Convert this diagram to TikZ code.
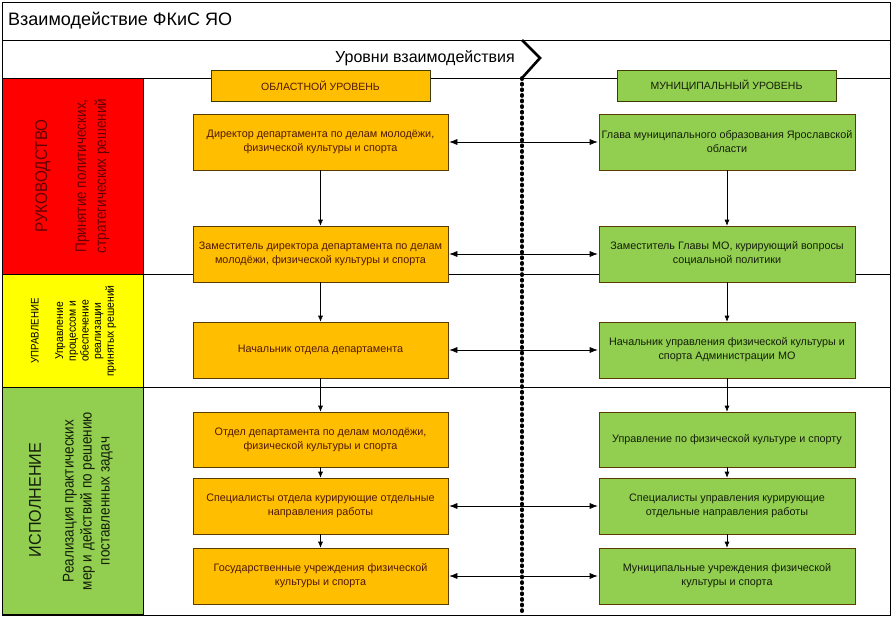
\documentclass[tikz,border=0pt]{standalone}
\usepackage{fontspec}
\setmainfont{Liberation Sans}
\usetikzlibrary{arrows.meta}
\definecolor{bandred}{RGB}{255,0,0}
\definecolor{bandyellow}{RGB}{255,255,0}
\definecolor{bandgreen}{RGB}{146,206,80}
\definecolor{boxorange}{RGB}{255,190,0}
\definecolor{boxgreen}{RGB}{146,206,80}
\definecolor{otext}{RGB}{80,25,5}
\definecolor{gtext}{RGB}{20,30,10}
\definecolor{rtext}{RGB}{100,0,0}
\tikzset{
  obox/.style={draw={rgb,255:red,90;green,60;blue,0}, line width=0.6pt, fill=boxorange, text=otext, minimum width=255pt, minimum height=56pt, align=center, font=\fontsize{10.8}{14}\selectfont, inner sep=0pt},
  gbox/.style={obox, fill=boxgreen, text=gtext, minimum width=256pt},
  hdr/.style={draw={rgb,255:red,60;green,60;blue,0}, line width=0.6pt, minimum width=219pt, minimum height=31pt, font=\fontsize{10.5}{12}\selectfont, inner sep=0pt},
  band/.style={draw=black, line width=0.7pt},
  vtxt/.style={rotate=90, align=center, inner sep=0pt},
  varr/.style={-{Latex[length=6pt,width=5pt]}, line width=0.6pt},
  harr/.style={{Latex[length=8pt,width=6pt]}-{Latex[length=8pt,width=6pt]}, line width=0.6pt, shorten <=1pt, shorten >=1pt},
  rule/.style={line width=0.7pt}
}
\begin{document}
\begin{tikzpicture}[x=1pt,y=-1pt]
\useasboundingbox (0,0) rectangle (893,619);
\fill[white] (0,0) rectangle (893,619);
% frame and rows
\draw[rule] (2,2) rectangle (890,615);
\draw[rule] (2,40) -- (890,40);
\draw[rule] (2,78) -- (890,78);
\draw[rule] (143,274) -- (890,274);
\draw[rule] (143,387) -- (890,387);
% bands
\filldraw[band, fill=bandred] (2,78) rectangle (143,274);
\filldraw[band, fill=bandyellow] (2,274) rectangle (143,387);
\filldraw[band, fill=bandgreen] (2,387) rectangle (143,614);
% title and levels
\node[anchor=west, font=\fontsize{18}{20}\selectfont, inner sep=0pt] (title) at (8,21) {Взаимодействие ФКиС ЯО};
\node[font=\fontsize{16}{18}\selectfont, inner sep=0pt] (levels) at (425,58) {Уровни взаимодействия};
\coordinate (chA) at (522,40);
\coordinate (chB) at (540,58);
\coordinate (chC) at (522,78);
\coordinate (dotEnd) at (522,615);
\draw[line width=2.6pt] (chA) -- (chB) -- (chC);
\draw[line width=3.6pt, line cap=round, dash pattern=on 1.2pt off 4.4pt] (chC) -- (dotEnd);
% band texts
\node[vtxt, text=rtext, font=\fontsize{17}{19}\selectfont] (t1a) at (43,176) {\scalebox{0.9}[1]{РУКОВОДСТВО}};
\node[vtxt, text=rtext, font=\fontsize{15.5}{20}\selectfont] (t1b) at (92,176) {\scalebox{0.87}[1]{\begin{tabular}{@{}c@{}}Принятие политических,\\стратегических решений\end{tabular}}};
\node[vtxt, text=black, font=\fontsize{11}{13}\selectfont] (t2a) at (35,331) {\scalebox{0.88}[1]{УПРАВЛЕНИЕ}};
\node[vtxt, text=black, font=\fontsize{11.5}{12.7}\selectfont] (t2b) at (86,331) {\scalebox{0.9}[1]{\begin{tabular}{@{}c@{}}Управление\\процессом и\\обеспечение\\реализации\\принятых решений\end{tabular}}};
\node[vtxt, text=gtext, font=\fontsize{17}{19}\selectfont] (t3a) at (35,500) {\scalebox{0.95}[1]{ИСПОЛНЕНИЕ}};
\node[vtxt, text=gtext, font=\fontsize{15.5}{18}\selectfont] (t3b) at (88,501) {\scalebox{0.87}[1]{\begin{tabular}{@{}c@{}}Реализация практических\\мер и действий по решению\\поставленных задач\end{tabular}}};
% headers
\node[hdr, fill=boxorange, text=otext] (hl) at (320.5,85.5) {ОБЛАСТНОЙ УРОВЕНЬ};
\node[hdr, fill=boxgreen, text=gtext] (hr) at (726.5,85.5) {МУНИЦИПАЛЬНЫЙ УРОВЕНЬ};
% left boxes
\node[obox] (l1) at (320.5,142) {Директор департамента по делам молодёжи,\\физической культуры и спорта};
\node[obox] (l2) at (320.5,254) {Заместитель директора департамента по делам\\молодёжи, физической культуры и спорта};
\node[obox] (l3) at (320.5,350) {Начальник отдела департамента};
\node[obox, minimum height=55pt] (l4) at (320.5,439.5) {Отдел департамента по делам молодёжи,\\физической культуры и спорта};
\node[obox] (l5) at (320.5,506) {Специалисты отдела курирующие отдельные\\направления работы};
\node[obox] (l6) at (320.5,576) {Государственные учреждения физической\\культуры и спорта};
% right boxes
\node[gbox] (r1) at (727,142) {Глава муниципального образования Ярославской\\области};
\node[gbox] (r2) at (727,254) {Заместитель Главы МО, курирующий вопросы\\социальной политики};
\node[gbox] (r3) at (727,350) {Начальник управления физической культуры и\\спорта Администрации МО};
\node[gbox, minimum height=55pt] (r4) at (727,439.5) {Управление по физической культуре и спорту};
\node[gbox] (r5) at (727,506) {Специалисты управления курирующие\\отдельные направления работы};
\node[gbox] (r6) at (727,576) {Муниципальные учреждения физической\\культуры и спорта};
% vertical arrows
\foreach \a/\b in {l1/l2,l2/l3,l3/l4,l4/l5,l5/l6,r1/r2,r2/r3,r3/r4,r4/r5,r5/r6}
  \draw[varr] (\a.south) -- (\b.north);
% horizontal arrows
\foreach \i in {1,2,3,5,6}
  \draw[harr] (l\i.east) -- (r\i.west);
\end{tikzpicture}
\end{document}
